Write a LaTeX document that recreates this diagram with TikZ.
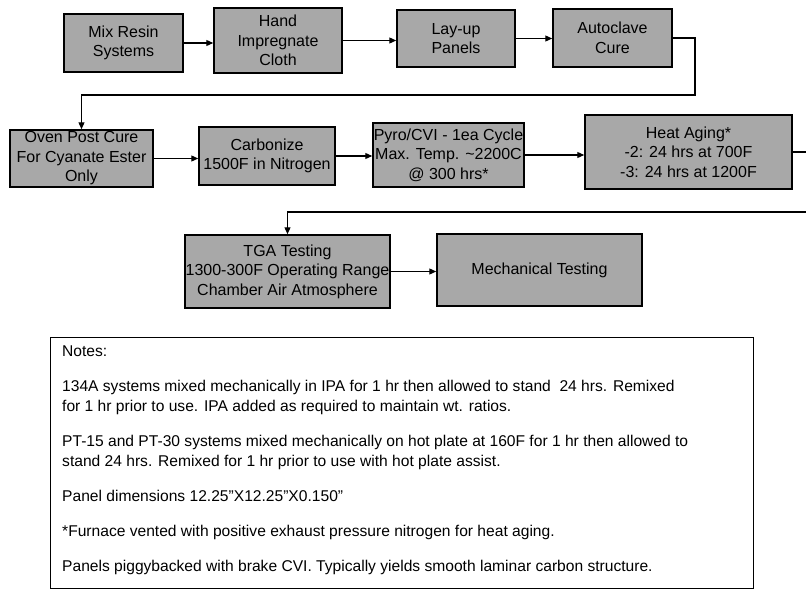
\documentclass[tikz,border=0pt]{standalone}
\usepackage{fontspec}
\setmainfont{Liberation Sans}
\usetikzlibrary{arrows.meta}
\definecolor{boxgray}{gray}{0.66}
\begin{document}
\begin{tikzpicture}[x=1pt,y=-1pt,
  proc/.style={draw=black, line width=1.5pt, fill=boxgray, inner sep=0pt, align=center,
    font=\fontsize{16}{19.5}\selectfont},
  conn/.style={line width=1.2pt, -{Triangle[length=7pt,width=6pt]}},
  plainline/.style={line width=1.2pt},
  notetext/.style={align=left, inner sep=0pt, font=\fontsize{15.6}{20}\selectfont}]
\useasboundingbox (0,0) rectangle (806,589);
% row 1
\node[proc, minimum width=119pt, minimum height=58pt] (b1) at (123.5,43) {Mix Resin\\Systems};
\node[proc, minimum width=128pt, minimum height=65pt] (b2) at (278,40.5) {Hand\\Impregnate\\Cloth};
\node[proc, minimum width=118pt, minimum height=57pt] (b3) at (456,38.5) {Lay-up\\Panels};
\node[proc, minimum width=119pt, minimum height=58pt] (b4) at (612.5,38) {Autoclave\\Cure};
% row 2
\node[proc, minimum width=143pt, minimum height=57pt] (b5) at (81.5,158.5) {Oven Post Cure\\For Cyanate Ester\\Only};
\node[proc, minimum width=136pt, minimum height=58pt] (b6) at (267,156) {Carbonize\\1500F in Nitrogen};
\node[proc, minimum width=151pt, minimum height=64pt] (b7) at (448.5,155) {Pyro/CVI - 1ea Cycle\\Max. Temp. \textasciitilde2200C\\@ 300 hrs*};
\node[proc, minimum width=207pt, minimum height=74pt] (b8) at (688.5,152) {Heat Aging*\\-2: 24 hrs at 700F\\-3: 24 hrs at 1200F};
% row 3
\node[proc, minimum width=205pt, minimum height=73pt] (b9) at (287.5,271.5) {TGA Testing\\1300-300F Operating Range\\Chamber Air Atmosphere};
\node[proc, minimum width=205pt, minimum height=72pt] (b10) at (539.5,270) {Mechanical Testing};
% connectors
\draw[conn] (b1.east) -- (b1.east -| b2.west);
\draw[conn] (b2.east) -- (b2.east -| b3.west);
\draw[conn] (b3.east) -- (b3.east -| b4.west);
\coordinate (t1) at (695,95);
\draw[conn] (b4.east) -| (t1) -| (b5.north);
\draw[conn] (b5.east) -- (b5.east -| b6.west);
\draw[conn] (b6.east) -- (b6.east -| b7.west);
\draw[conn] (b7.east) -- (b7.east -| b8.west);
\coordinate (e1) at (806,152);
\draw[plainline] (b8.east) -- (e1);
\coordinate (e2) at (806,212);
\draw[conn] (e2) -| (b9.north);
\draw[conn] (b9.east) -- (b9.east -| b10.west);
% notes
\node[draw=black, line width=1.3pt, minimum width=703pt, minimum height=251pt, anchor=north west, inner sep=0pt] (notes) at (50,337) {};
\node[notetext, anchor=north west] (nt) at (62,346) {Notes:\\[15pt]
134A systems mixed mechanically in IPA for 1 hr then allowed to stand\ \ 24 hrs. Remixed\\
for 1 hr prior to use. IPA added as required to maintain wt. ratios.\\[15pt]
PT-15 and PT-30 systems mixed mechanically on hot plate at 160F for 1 hr then allowed to\\
stand 24 hrs. Remixed for 1 hr prior to use with hot plate assist.\\[15pt]
Panel dimensions 12.25"X12.25"X0.150"\\[15pt]
*Furnace vented with positive exhaust pressure nitrogen for heat aging.\\[15pt]
Panels piggybacked with brake CVI. Typically yields smooth laminar carbon structure.};
\end{tikzpicture}
\end{document}
